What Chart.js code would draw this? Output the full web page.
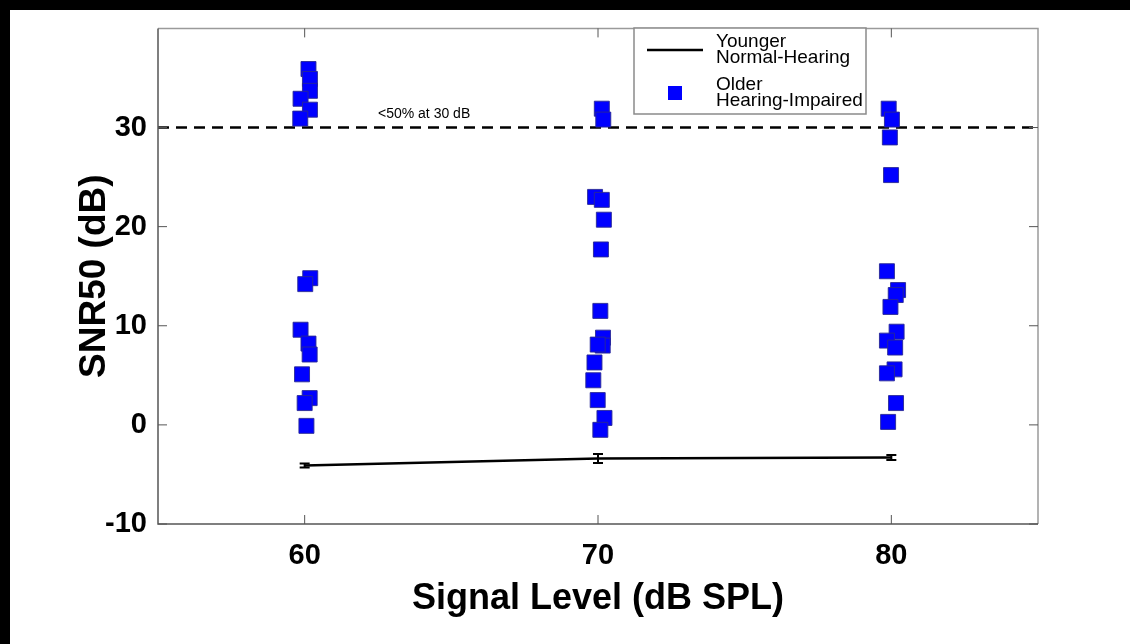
<!DOCTYPE html>
<html>
<head>
<meta charset="utf-8">
<title>SNR50 vs Signal Level</title>
<script src="https://cdn.jsdelivr.net/npm/chart.js@4.4.1/dist/chart.umd.min.js"></script>
<style>
  html, body { margin: 0; padding: 0; background: #fff; }
  #wrap { position: relative; width: 1130px; height: 644px; overflow: hidden; background: #fff; }
  #bandTop { position: absolute; left: 0; top: 0; width: 1130px; height: 10px; background: #000; z-index: 2; }
  #bandLeft { position: absolute; left: 0; top: 0; width: 10px; height: 644px; background: #000; z-index: 2; }
  canvas { position: absolute; left: 0; top: 0; }
</style>
</head>
<body>
<div id="wrap">
  <canvas id="snrChart" width="1130" height="644"></canvas>
  <div id="bandTop"></div>
  <div id="bandLeft"></div>
</div>
<script>
// ---- data ----
const xTicks = [60, 70, 80];
const yTicks = [-10, 0, 10, 20, 30];

// Younger normal-hearing: mean and error bar half-width
const ynhLevel = [60, 70, 80];
const ynhMean = [-4.1, -3.4, -3.3];
const ynhErr = [0.2, 0.45, 0.25];

// Older hearing-impaired listeners (small x jitter as plotted)
const ohi60X = [60.13, 60.18, 60.18, 59.86, 60.18, 59.85, 60.19, 60.02, 59.86, 60.13, 60.17, 59.91, 60.17, 60.0, 60.06];
const ohi60Y = [35.9, 34.9, 33.7, 32.9, 31.8, 30.9, 14.8, 14.2, 9.6, 8.2, 7.1, 5.1, 2.7, 2.2, -0.1];
const ohi70X = [70.13, 70.18, 69.9, 70.13, 70.2, 70.1, 70.08, 70.17, 70.16, 69.99, 69.88, 69.84, 69.99, 70.22, 70.08];
const ohi70Y = [31.9, 30.8, 23.0, 22.7, 20.7, 17.7, 11.5, 8.8, 8.0, 8.1, 6.3, 4.5, 2.5, 0.7, -0.5];
const ohi80X = [79.91, 80.02, 79.95, 79.99, 79.85, 80.23, 80.15, 79.97, 80.18, 79.85, 80.13, 80.11, 79.85, 80.16, 79.89];
const ohi80Y = [31.9, 30.8, 29.0, 25.2, 15.5, 13.6, 13.1, 11.9, 9.4, 8.5, 7.8, 5.6, 5.2, 2.2, 0.3];

const ceilingLevel = 30;
const ceilingNote = '<50% at 30 dB';
const noteAt = { x: 62.5, y: 31.4 };

const FONT = '"Liberation Sans", Arial, Helvetica, sans-serif';

const toPoints = (xs, ys) => xs.map((x, i) => ({ x: x, y: ys[i] }));
const ohiPoints = [].concat(
    toPoints(ohi60X, ohi60Y),
    toPoints(ohi70X, ohi70Y),
    toPoints(ohi80X, ohi80Y)
);

// Frame, inward ticks, error bars, note and legend
const figureExtras = {
    id: 'figureExtras',
    afterDatasetsDraw: (chart) => {
        const { ctx, scales: { x, y } } = chart;
        ctx.save();
        ctx.strokeStyle = '#000';
        ctx.lineWidth = 2;
        ynhLevel.forEach((lv, i) => {
            const px = x.getPixelForValue(lv);
            const lo = y.getPixelForValue(ynhMean[i] - ynhErr[i]);
            const hi = y.getPixelForValue(ynhMean[i] + ynhErr[i]);
            ctx.beginPath();
            ctx.moveTo(px, lo); ctx.lineTo(px, hi);
            ctx.moveTo(px - 5, lo); ctx.lineTo(px + 5, lo);
            ctx.moveTo(px - 5, hi); ctx.lineTo(px + 5, hi);
            ctx.stroke();
        });

        ctx.fillStyle = '#000';
        ctx.font = '14px ' + FONT;
        ctx.textAlign = 'left';
        ctx.textBaseline = 'middle';
        ctx.fillText(ceilingNote, x.getPixelForValue(noteAt.x), y.getPixelForValue(noteAt.y));
        ctx.restore();
    },
    afterDraw: (chart) => {
        const { ctx, chartArea: a, scales: { x, y } } = chart;
        ctx.save();

        // axes box
        ctx.lineWidth = 1.5;
        ctx.strokeStyle = '#9a9a9a';
        ctx.beginPath();
        ctx.moveTo(a.left, a.top); ctx.lineTo(a.right, a.top); ctx.lineTo(a.right, a.bottom);
        ctx.stroke();
        ctx.strokeStyle = '#555';
        ctx.beginPath();
        ctx.moveTo(a.left, a.top); ctx.lineTo(a.left, a.bottom); ctx.lineTo(a.right, a.bottom);
        ctx.stroke();

        // inward tick marks
        ctx.lineWidth = 1;
        ctx.strokeStyle = '#555';
        const tl = 9;
        ctx.beginPath();
        yTicks.forEach(v => {
            const py = y.getPixelForValue(v);
            ctx.moveTo(a.left, py); ctx.lineTo(a.left + tl, py);
            ctx.moveTo(a.right, py); ctx.lineTo(a.right - tl, py);
        });
        xTicks.forEach(v => {
            const px = x.getPixelForValue(v);
            ctx.moveTo(px, a.bottom); ctx.lineTo(px, a.bottom - tl);
            ctx.moveTo(px, a.top); ctx.lineTo(px, a.top + tl);
        });
        ctx.stroke();

        // legend
        const lx = 634, ly = 28, lw = 232, lh = 86;
        ctx.fillStyle = '#fff';
        ctx.fillRect(lx, ly, lw, lh);
        ctx.strokeStyle = '#8a8a8a';
        ctx.lineWidth = 1.5;
        ctx.strokeRect(lx, ly, lw, lh);

        ctx.strokeStyle = '#000';
        ctx.lineWidth = 2.5;
        ctx.beginPath();
        ctx.moveTo(647, 50); ctx.lineTo(703, 50);
        ctx.stroke();

        ctx.fillStyle = '#0000ff';
        ctx.fillRect(668, 86, 14, 14);

        ctx.fillStyle = '#000';
        ctx.font = '19px ' + FONT;
        ctx.textAlign = 'left';
        ctx.textBaseline = 'middle';
        ctx.fillText('Younger', 716, 42);
        ctx.fillText('Normal-Hearing', 716, 57.5);
        ctx.fillText('Older', 716, 85);
        ctx.fillText('Hearing-Impaired', 716, 100.5);

        ctx.restore();
    }
};

new Chart(document.getElementById('snrChart'), {
    type: 'scatter',
    data: {
        datasets: [{
            label: 'Older Hearing-Impaired',
            data: ohiPoints,
            pointStyle: 'rect',
            pointRadius: 10.6,
            backgroundColor: '#0000ff',
            borderColor: 'rgba(40, 40, 150, 0.9)',
            borderWidth: 1
        }, {
            type: 'line',
            label: 'Younger Normal-Hearing',
            data: toPoints(ynhLevel, ynhMean),
            borderColor: '#000',
            borderWidth: 2.5,
            pointRadius: 0,
            fill: false,
            tension: 0
        }, {
            type: 'line',
            label: 'ceiling',
            data: [{ x: 55, y: ceilingLevel }, { x: 85, y: ceilingLevel }],
            borderColor: '#000',
            borderWidth: 2.5,
            borderDash: [11, 7],
            pointRadius: 0,
            fill: false
        }]
    },
    options: {
        responsive: false,
        animation: false,
        devicePixelRatio: 1,
        layout: { padding: { top: 26, right: 92, left: 0, bottom: 0 } },
        plugins: {
            legend: { display: false },
            tooltip: { enabled: false }
        },
        scales: {
            x: {
                type: 'linear',
                min: 55,
                max: 85,
                afterBuildTicks: (scale) => { scale.ticks = xTicks.map(v => ({ value: v })); },
                afterFit: (scale) => { scale.height = 120; },
                grid: { display: false, drawTicks: false },
                border: { display: false },
                ticks: {
                    color: '#000',
                    padding: 15,
                    font: { family: FONT, size: 29, weight: 'bold' }
                },
                title: {
                    display: true,
                    text: 'Signal Level (dB SPL)',
                    color: '#000',
                    padding: { top: 0, bottom: 23 },
                    font: { family: FONT, size: 36, weight: 'bold' }
                }
            },
            y: {
                type: 'linear',
                min: -10,
                max: 40,
                afterBuildTicks: (scale) => { scale.ticks = yTicks.map(v => ({ value: v })); },
                afterFit: (scale) => { scale.width = 158; },
                grid: { display: false, drawTicks: false },
                border: { display: false },
                ticks: {
                    color: '#000',
                    padding: 11,
                    font: { family: FONT, size: 29, weight: 'bold' }
                },
                title: {
                    display: true,
                    text: 'SNR50 (dB)',
                    color: '#000',
                    padding: { top: 73, bottom: 0 },
                    font: { family: FONT, size: 37, weight: 'bold' }
                }
            }
        }
    },
    plugins: [figureExtras]
});
</script>
</body>
</html>
